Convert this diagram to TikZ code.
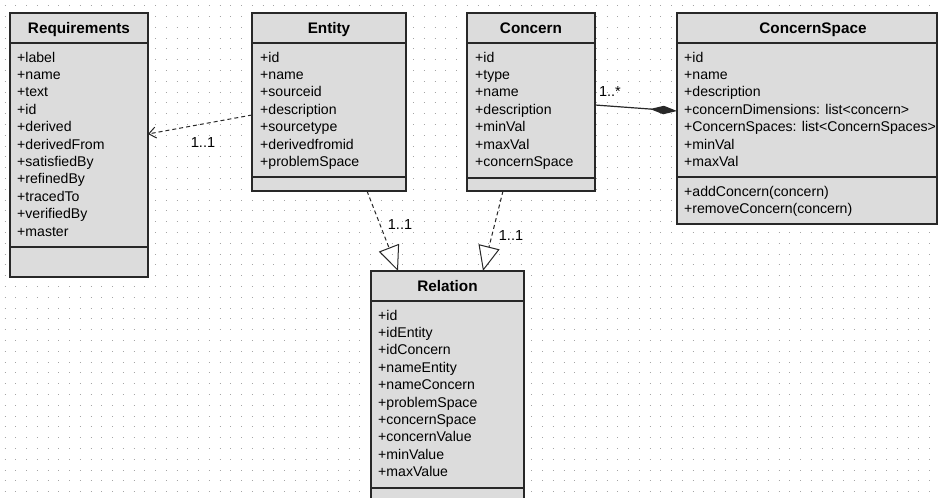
\documentclass[tikz,border=0pt]{standalone}
\usepackage{fontspec}
\setmainfont{Liberation Sans}
\usetikzlibrary{arrows.meta}
\definecolor{boxfill}{RGB}{220,220,220}
\definecolor{boxline}{RGB}{40,40,40}
\definecolor{griddot}{RGB}{165,165,165}
\begin{document}
\begin{tikzpicture}[x=1pt,y=-1pt,
  box/.style={draw=boxline, fill=boxfill, line width=1.2pt, rectangle, inner sep=0pt, outer sep=0pt, anchor=north west},
  title/.style={anchor=base, inner sep=0pt, font=\fontsize{15.3}{18}\selectfont\bfseries},
  attr/.style={anchor=base west, inner sep=0pt, font=\fontsize{14.1}{17}\selectfont},
  sep/.style={draw=boxline, line width=1.2pt},
  mult/.style={anchor=center, inner sep=0pt, font=\fontsize{14.5}{17}\selectfont},
  dep/.style={draw=boxline, line width=1pt, dash pattern=on 4pt off 3pt, -{Straight Barb[length=7pt,width=11pt]}},
  real/.style={draw=boxline, line width=1pt, dash pattern=on 4pt off 3pt, -{Triangle[open,length=25pt,width=21.5pt]}},
  comp/.style={draw=boxline, line width=1.2pt, -{Diamond[length=27pt,width=8.5pt]}}]

\useasboundingbox (0,0) rectangle (938,498);
\clip (0,0) rectangle (938,498);
\fill[white] (0,0) rectangle (938,498);

% dotted background grid
\foreach \j in {0,...,46}
  \draw[griddot, line width=1pt, dash pattern=on 1pt off 9.75pt]
    (4.7,{5.7+\j*10.8}) -- (938,{5.7+\j*10.8});

% ---- Requirements
\node[box, minimum width=138pt, minimum height=264pt] (req) at (10,13) {};
\draw[sep] (req.west |- 0,43) -- (req.east |- 0,43);
\draw[sep] (req.west |- 0,247) -- (req.east |- 0,247);
\node[title] (req-t) at (79,33.5) {Requirements};
\foreach \t [count=\i from 0] in {+label,+name,+text,+id,+derived,+derivedFrom,+satisfiedBy,+refinedBy,+tracedTo,+verifiedBy,+master}
  \node[attr] (req-a\i) at (17,{62+\i*17.4}) {\t};

% ---- Entity
\node[box, minimum width=154pt, minimum height=178pt] (ent) at (252,13) {};
\draw[sep] (ent.west |- 0,43) -- (ent.east |- 0,43);
\draw[sep] (ent.west |- 0,177) -- (ent.east |- 0,177);
\node[title] (ent-t) at (329,33.5) {Entity};
\foreach \t [count=\i from 0] in {+id,+name,+sourceid,+description,+sourcetype,+derivedfromid,+problemSpace}
  \node[attr] (ent-a\i) at (260,{62+\i*17.4}) {\t};

% ---- Concern
\node[box, minimum width=128pt, minimum height=178pt] (con) at (467,13) {};
\draw[sep] (con.west |- 0,43) -- (con.east |- 0,43);
\draw[sep] (con.west |- 0,178) -- (con.east |- 0,178);
\node[title] (con-t) at (531,33.5) {Concern};
\foreach \t [count=\i from 0] in {+id,+type,+name,+description,+minVal,+maxVal,+concernSpace}
  \node[attr] (con-a\i) at (475,{62+\i*17.4}) {\t};

% ---- ConcernSpace
\node[box, minimum width=260pt, minimum height=211pt] (cs) at (677,13) {};
\draw[sep] (cs.west |- 0,43) -- (cs.east |- 0,43);
\draw[sep] (cs.west |- 0,177) -- (cs.east |- 0,177);
\node[title] (cs-t) at (813,33.5) {ConcernSpace};
\foreach \t [count=\i from 0] in {+id,+name,+description,+concernDimensions: list<concern>,+ConcernSpaces: list<ConcernSpaces>,+minVal,+maxVal}
  \node[attr] (cs-a\i) at (684,{62+\i*17.4}) {\t};
\foreach \t [count=\i from 0] in {+addConcern(concern),+removeConcern(concern)}
  \node[attr] (cs-m\i) at (684,{196+\i*17.4}) {\t};

% ---- Relation
\node[box, minimum width=153pt, minimum height=240pt] (rel) at (371,271) {};
\draw[sep] (rel.west |- 0,301) -- (rel.east |- 0,301);
\draw[sep] (rel.west |- 0,488) -- (rel.east |- 0,488);
\node[title] (rel-t) at (447.5,291.5) {Relation};
\foreach \t [count=\i from 0] in {+id,+idEntity,+idConcern,+nameEntity,+nameConcern,+problemSpace,+concernSpace,+concernValue,+minValue,+maxValue}
  \node[attr] (rel-a\i) at (378,{320+\i*17.4}) {\t};

% ---- connectors
\draw[dep] (ent.west |- 0,115) -- (req.east |- 0,134);
\node[mult] (m1) at (203,143) {1..1};

\draw[real] (ent.south -| 367,0) -- (rel.north -| 398,0);
\node[mult] (m2) at (400,225) {1..1};

\draw[real] (con.south -| 503,0) -- (rel.north -| 483,0);
\node[mult] (m3) at (511,236) {1..1};

\draw[comp] (con.east |- 0,105) -- (cs.west |- 0,111);
\node[mult] (m4) at (610,92) {1..*};
\end{tikzpicture}
\end{document}
